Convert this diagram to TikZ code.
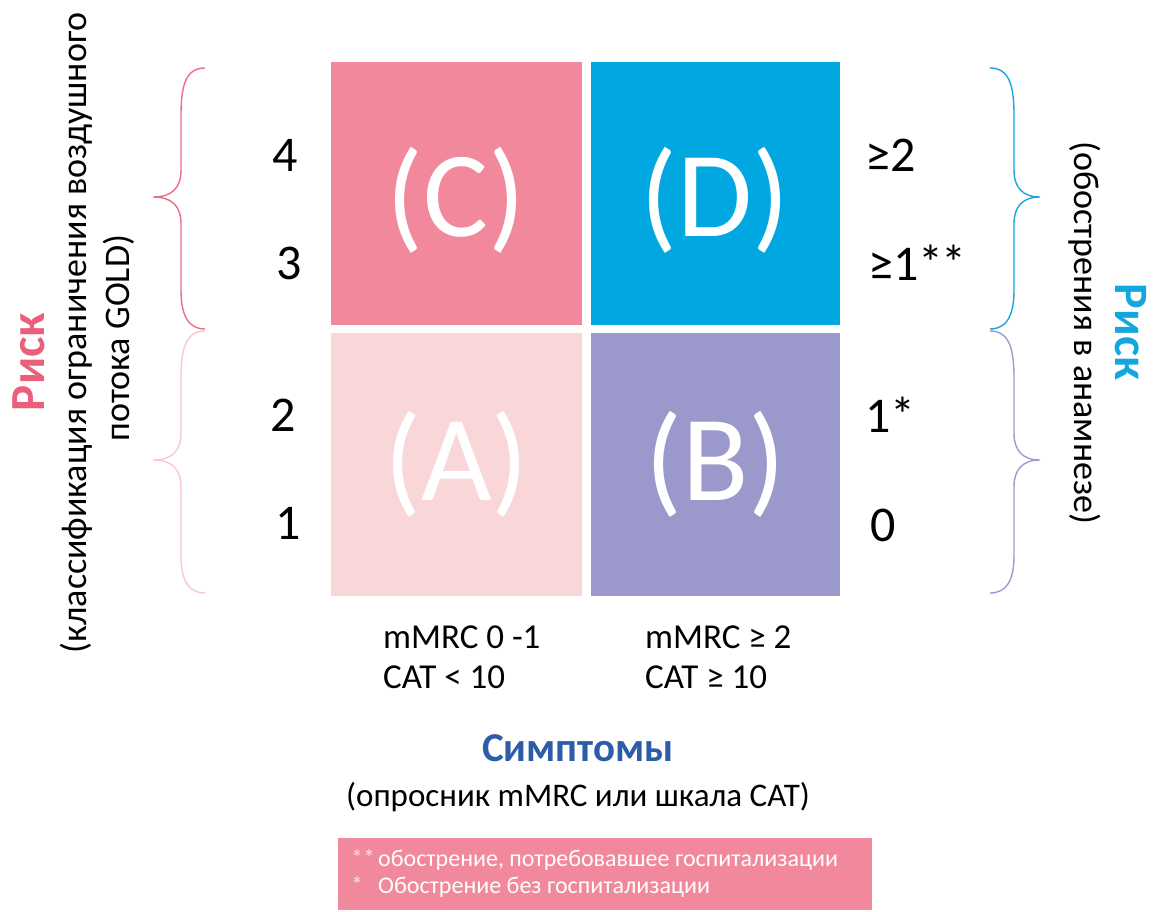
\documentclass[tikz,border=0pt]{standalone}
\usepackage{fontspec}
\setmainfont{Carlito}
\definecolor{cC}{HTML}{F1889B}
\definecolor{cD}{HTML}{00A7E1}
\definecolor{cA}{HTML}{F9D7D8}
\definecolor{cB}{HTML}{9B99CB}
\definecolor{brP}{HTML}{E96F86}
\definecolor{brL}{HTML}{F8C9CF}
\definecolor{brB}{HTML}{1AA6DD}
\definecolor{brV}{HTML}{9C9BD0}
\definecolor{rPink}{HTML}{EC5F7B}
\definecolor{rBlue}{HTML}{14A6DE}
\definecolor{sBlue}{HTML}{2E5DA8}
\tikzset{
  quad/.style={draw=none, minimum width=251pt, minimum height=263pt, inner sep=0pt, text=white, font=\fontsize{122}{130}\selectfont},
  num/.style={font=\fontsize{50}{54}\selectfont, inner sep=0pt},
  lab/.style={font=\fontsize{35}{40}\selectfont, inner sep=0pt, align=left},
  side/.style={font=\fontsize{36}{40}\selectfont, inner sep=0pt},
  brace/.style={line width=1.4pt}
}
\begin{document}
\begin{tikzpicture}[x=1pt,y=-1pt]
\useasboundingbox (0,0) rectangle (1156,911);
\fill[white] (0,0) rectangle (1156,911);
% quadrants
\node[quad, fill=cC] (C) at (456.5,193.5) {};
\node[quad, fill=cD, minimum width=249pt] (D) at (715.5,193.5) {};
\node[quad, fill=cA] (A) at (456.5,464.5) {};
\node[quad, fill=cB, minimum width=249pt] (B) at (715.5,464.5) {};
\node[quad] (Ct) at (456.5,200) {(C)};
\node[quad] (Dt) at (715.5,200) {(D)};
\node[quad] (At) at (456.5,464) {(A)};
\node[quad] (Bt) at (715.5,464) {(B)};
% left numbers
\node[num] (n4) at (285,155) {4};
\node[num] (n3) at (289,263) {3};
\node[num] (n2) at (283,415) {2};
\node[num] (n1) at (288,523) {1};
% right numbers
\node[num, anchor=west] (r2) at (865,155) {≥2};
\node[num, anchor=west] (r1s) at (868,263) {≥1*\kern-2pt*};
\node[num, anchor=west] (r1) at (865,415) {1*};
\node[num, anchor=west] (r0) at (870,525) {0};
% left braces
\draw[brace, brP] (205,68) .. controls (186,68) and (181,85) .. (181,115) -- (181,170)
  .. controls (181,188) and (172,197) .. (153,197)
  .. controls (172,197) and (181,206) .. (181,224) -- (181,290)
  .. controls (181,315) and (188,329) .. (205,329);
\draw[brace, brL] (205,331) .. controls (186,331) and (181,348) .. (181,378) -- (181,433)
  .. controls (181,451) and (172,460) .. (153,460)
  .. controls (172,460) and (181,469) .. (181,487) -- (181,555)
  .. controls (181,580) and (188,593) .. (205,593);
% right braces
\draw[brace, brB] (990,68) .. controls (1009,68) and (1014,85) .. (1014,115) -- (1014,170)
  .. controls (1014,188) and (1023,197) .. (1040,197)
  .. controls (1023,197) and (1014,206) .. (1014,224) -- (1014,290)
  .. controls (1014,315) and (1007,329) .. (990,329);
\draw[brace, brV] (990,331) .. controls (1009,331) and (1014,348) .. (1014,378) -- (1014,433)
  .. controls (1014,451) and (1023,460) .. (1040,460)
  .. controls (1023,460) and (1014,469) .. (1014,487) -- (1014,555)
  .. controls (1014,580) and (1007,593) .. (990,593);
% left side titles
\node[rotate=90, text=rPink, font=\fontsize{49}{50}\selectfont\bfseries, inner sep=0pt] (riskL) at (29,362) {Риск};
\node[rotate=90, side] (gold1) at (76,333) {(классификация ограничения воздушного};
\node[rotate=90, side] (gold2) at (119,338) {потока GOLD)};
% right side titles
\node[rotate=-90, side] (obostr) at (1085,333) {(обострения в анамнезе)};
\node[rotate=-90, text=rBlue, font=\fontsize{48}{50}\selectfont\bfseries, inner sep=0pt] (riskR) at (1131,332) {Риск};
% bottom labels
\node[lab, anchor=west] (low1) at (383,637) {mMRC 0 -1};
\node[lab, anchor=west] (low2) at (383,677) {CAT < 10};
\node[lab, anchor=west] (high1) at (645,637) {mMRC ≥ 2};
\node[lab, anchor=west] (high2) at (645,677) {CAT ≥ 10};
\node[text=sBlue, font=\fontsize{41}{46}\selectfont\bfseries, inner sep=0pt] (sympt) at (578,748) {Симптомы};
\node[font=\fontsize{33}{38}\selectfont, inner sep=0pt] (quest) at (578,797) {(опросник mMRC или шкала CAT)};
% footnote box
\node[fill=cC, minimum width=534pt, minimum height=72pt, inner sep=0pt] (foot) at (605,874) {};
\node[anchor=west, text=white, font=\fontsize{24}{27}\selectfont, align=left, inner sep=0pt] (foottext) at (351,873)
  {\makebox[27pt][l]{\textcolor{white!75!cC}{**}}обострение, потребовавшее госпитализации\\
   \makebox[27pt][l]{\textcolor{white!75!cC}{*}}Обострение без госпитализации};
\end{tikzpicture}
\end{document}
